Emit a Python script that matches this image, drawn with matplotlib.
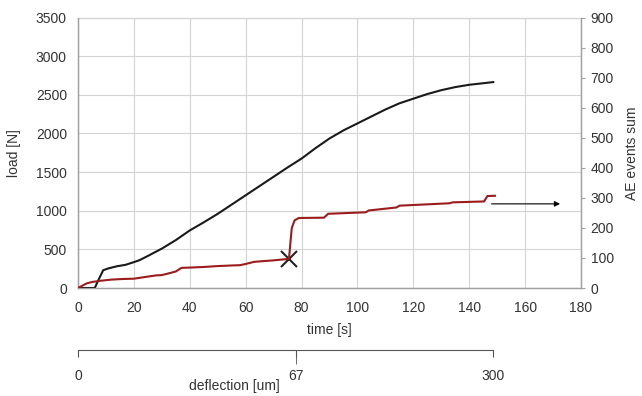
import matplotlib
matplotlib.use("Agg")
import matplotlib.pyplot as plt
from matplotlib.ticker import FixedLocator
from matplotlib.transforms import blended_transform_factory

plt.rcParams['font.family'] = ['Liberation Sans', 'DejaVu Sans']

# load curve (left axis)
load_time = [0, 6, 7, 9, 11, 14, 17, 20, 22, 25, 30, 35, 40, 45, 50, 55, 60,
             65, 70, 75, 80, 85, 90, 95, 100, 105, 110, 115, 120, 125, 130,
             135, 140, 145, 148.6]
load_n = [0, 0, 80, 230, 255, 282, 300, 335, 360, 415, 510, 620, 745, 850,
          960, 1080, 1200, 1320, 1440, 1560, 1675, 1810, 1935, 2040, 2130,
          2220, 2310, 2390, 2450, 2510, 2560, 2600, 2630, 2650, 2665]

# AE events sum (right axis)
ae_time = [0, 1, 3, 5, 8, 12, 16, 20, 25, 28, 30, 33, 35, 37, 40, 45, 50, 55,
           58, 60, 63, 67, 70, 75.5, 76, 76.5, 77.5, 79, 88, 89.5, 103, 104,
           114, 115, 133, 134, 145.3, 146.5, 149.2]
ae_sum = [0, 5, 15, 20, 24, 28, 30, 31, 38, 42, 43, 50, 55, 67, 68, 70, 73,
          75, 76, 80, 87, 90, 92, 97, 150, 200, 225, 233, 234, 247, 252, 258,
          268, 274, 282, 285, 288, 306, 307]

fail_time = [75.5]
fail_load = [370]

arrow_from = (147, 280)
arrow_to = (173.5, 280)

defl_labels = ['0', '67', '300']
defl_time = [0, 78, 148.6]

txt = '#333333'
fig = plt.figure(figsize=(6.42, 3.96), dpi=100)
ax = fig.add_axes([0.1215, 0.2727, 0.7835, 0.683])
ax2 = ax.twinx()

ax.plot(load_time, load_n, color='#1a1a1a', lw=1.5, zorder=3)
ax.plot(fail_time, fail_load, marker='x', ms=11, mew=1.5, color='#222222',
        ls='none', zorder=5)
ax2.plot(ae_time, ae_sum, color='#9b1c1c', lw=1.5, zorder=3)
ax2.annotate('', xy=arrow_to, xytext=arrow_from,
             arrowprops=dict(arrowstyle='-|>', color='black', lw=0.8,
                             mutation_scale=8))

ax.set_xlim(0, 180)
ax.set_ylim(0, 3500)
ax2.set_ylim(0, 900)
ax.set_xticks(range(0, 181, 20))
ax.set_yticks(range(0, 3501, 500))
ax2.set_yticks(range(0, 901, 100))
ax.grid(True, color='#d4d4d4', lw=0.8)
ax.set_axisbelow(True)

for a in (ax, ax2):
    for s in a.spines.values():
        s.set_color('#a0a0a0')
        s.set_linewidth(0.9)
ax.spines['top'].set_color('#d4d4d4')
ax2.spines['top'].set_visible(False)

ax.tick_params(axis='both', length=0, labelsize=10, labelcolor=txt)
ax.tick_params(axis='x', pad=9)
ax.tick_params(axis='y', pad=8)
ax2.tick_params(axis='y', length=3, color='#a0a0a0', labelsize=10,
                labelcolor=txt, pad=4)

ax.set_xlabel('time [s]', fontsize=10, color=txt, labelpad=6)
ax.set_ylabel('load [N]', fontsize=10, color=txt)
ax.yaxis.set_label_coords(-0.114, 0.5)
ax2.set_ylabel('AE events sum', fontsize=10, color=txt, rotation=90)
ax2.yaxis.set_label_coords(1.088, 0.5)

# deflection axis below
ax3 = fig.add_axes([0.1215, 0.1162, 0.7835, 0.0001])
ax3.set_xlim(0, 180)
ax3.set_yticks([])
for k in ('top', 'left', 'right'):
    ax3.spines[k].set_visible(False)
ax3.spines['bottom'].set_bounds(defl_time[0], defl_time[-1])
ax3.spines['bottom'].set_color('#555555')
ax3.xaxis.remove_overlapping_locs = False
ax3.set_xticks(defl_time)
ax3.set_xticklabels(defl_labels)
ax3.xaxis.set_minor_locator(FixedLocator([defl_time[1]]))
ax3.tick_params(axis='x', which='major', length=5, color='#555555',
                labelsize=10, labelcolor=txt, pad=9)
ax3.tick_params(axis='x', which='minor', length=10, color='#555555')
ax3.set_xlabel('deflection [um]', fontsize=10, color=txt)
ax3.xaxis.set_label_coords(0.31, 0.025,
                           transform=blended_transform_factory(ax3.transAxes,
                                                               fig.transFigure))
ax3.xaxis.label.set_va('center')

fig.savefig('out.png', dpi=100)
